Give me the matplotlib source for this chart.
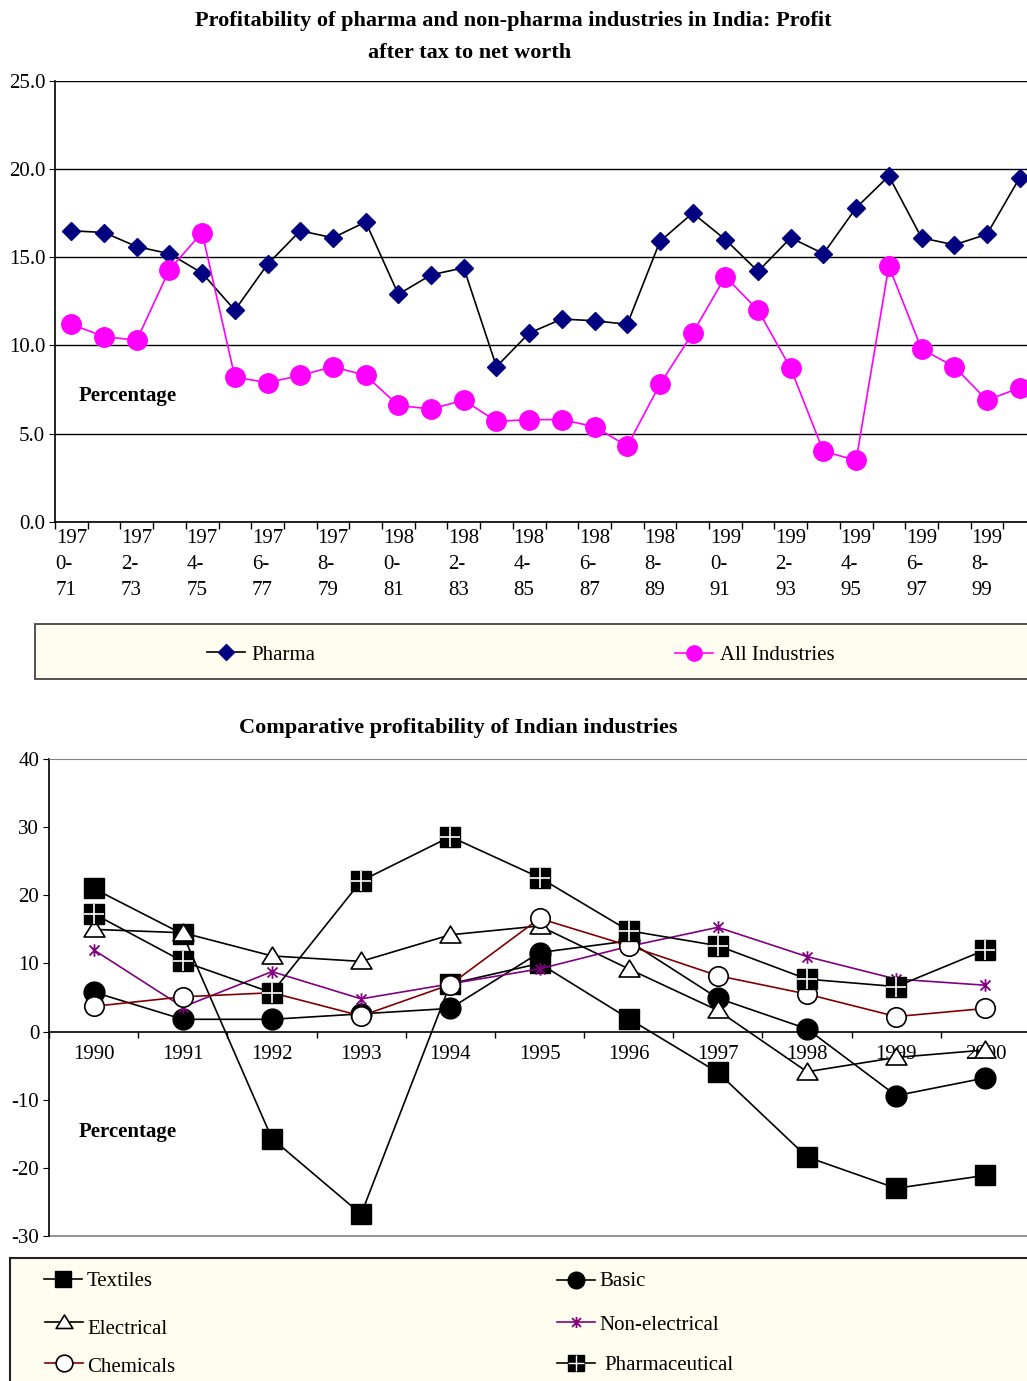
import matplotlib
matplotlib.use("Agg")
import matplotlib.pyplot as plt
from matplotlib.lines import Line2D
from matplotlib.patches import Rectangle
from matplotlib.path import Path

plt.rcParams['font.family'] = ['Liberation Serif', 'DejaVu Serif']
plt.rcParams['axes.unicode_minus'] = False

# profit after tax to net worth, 1970-71 .. 1999-00
periods = ['1970-71', '1971-72', '1972-73', '1973-74', '1974-75', '1975-76',
           '1976-77', '1977-78', '1978-79', '1979-80', '1980-81', '1981-82',
           '1982-83', '1983-84', '1984-85', '1985-86', '1986-87', '1987-88',
           '1988-89', '1989-90', '1990-91', '1991-92', '1992-93', '1993-94',
           '1994-95', '1995-96', '1996-97', '1997-98', '1998-99', '1999-00']
pharma = [16.5, 16.4, 15.6, 15.2, 14.1, 12.0, 14.6, 16.5, 16.1, 17.0,
          12.9, 14.0, 14.4, 8.8, 10.7, 11.5, 11.4, 11.2, 15.9, 17.5,
          16.0, 14.2, 16.1, 15.2, 17.8, 19.6, 16.1, 15.7, 16.3, 19.5]
all_industries = [11.2, 10.5, 10.3, 14.3, 16.4, 8.2, 7.9, 8.3, 8.8, 8.3,
                  6.6, 6.4, 6.9, 5.7, 5.8, 5.8, 5.4, 4.3, 7.8, 10.7,
                  13.9, 12.0, 8.7, 4.0, 3.5, 14.5, 9.8, 8.8, 6.9, 7.6]

# comparative profitability by industry, 1990 .. 2000
years = ['1990', '1991', '1992', '1993', '1994', '1995', '1996', '1997',
         '1998', '1999', '2000']
textiles = [21.0, 14.3, -15.7, -26.8, 7.0, 10.0, 1.9, -6.0, -18.4, -23.0, -21.1]
basic = [5.8, 1.8, 1.8, 2.6, 3.4, 11.6, 13.3, 4.9, 0.4, -9.4, -6.8]
electrical = [15.0, 14.5, 11.1, 10.3, 14.2, 15.5, 9.2, 3.1, -5.9, -3.8, -2.7]
non_electrical = [12.0, 3.6, 8.8, 4.8, 7.0, 9.2, 12.5, 15.3, 11.0, 7.7, 6.8]
chemicals = [3.7, 5.1, 5.7, 2.3, 6.9, 16.6, 12.6, 8.2, 5.5, 2.2, 3.4]
pharmaceutical = [17.3, 10.3, 5.7, 22.1, 28.6, 22.6, 14.8, 12.6, 7.7, 6.6, 12.0]

W, H = 1027, 1381
fig = plt.figure(figsize=(W / 100, H / 100), dpi=100)


def fx(x):
    return x / W


def fy(y):
    return 1 - y / H


FS = 15
TFS = 16
navy = '#000080'
magenta = '#FF00FF'
purple = '#800080'
darkred = '#800000'
cream = '#FFFDF0'

# asterisk marker (x plus vertical bar)
star = Path([(-0.8, -0.8), (0.8, 0.8), (-0.8, 0.8), (0.8, -0.8), (0, -1), (0, 1)],
            [Path.MOVETO, Path.LINETO, Path.MOVETO, Path.LINETO, Path.MOVETO, Path.LINETO])
# Excel style triangle
tri = Path([(-1, -0.72), (1, -0.72), (0, 0.9), (-1, -0.72)],
           [Path.MOVETO, Path.LINETO, Path.LINETO, Path.CLOSEPOLY])

# ---------------- top chart ----------------
ax1 = fig.add_axes([fx(55), fy(522), 981 / W, 441.3 / H])
x1 = list(range(len(periods)))
ax1.plot(x1, pharma, color='black', lw=1.2, marker='D', ms=9,
         mfc=navy, mec=navy, zorder=3)
ax1.plot(x1, all_industries, color=magenta, lw=1.2, marker='o', ms=14,
         mfc=magenta, mec=magenta, zorder=4)
ax1.set_xlim(-0.5, len(periods) - 0.5)
ax1.set_ylim(0, 25)
ax1.set_yticks([0, 5, 10, 15, 20, 25])
ax1.set_yticklabels(['%.1f' % v for v in [0, 5, 10, 15, 20, 25]])
ax1.yaxis.grid(True, color='black', lw=1)
ax1.set_axisbelow(True)
ax1.set_xticks(x1[::2])
ax1.set_xticklabels([p[:3] + '\n' + p[3:5] + '\n' + p[5:] for p in periods[::2]],
                    multialignment='left', linespacing=1.5)
ax1.set_xticks([i - 0.5 for i in range(len(periods) + 1)], minor=True)
ax1.tick_params(axis='x', which='major', length=0, pad=5, labelsize=FS)
ax1.tick_params(axis='x', which='minor', length=5, direction='out', width=1)
ax1.tick_params(axis='y', length=4, direction='out', pad=3, labelsize=FS)
for s in ['top', 'right']:
    ax1.spines[s].set_visible(False)
ax1.spines['left'].set_linewidth(1.2)
ax1.spines['bottom'].set_linewidth(1.2)

fig.text(0.5, fy(21), 'Profitability of pharma and non-pharma industries in India: Profit',
         ha='center', va='center', fontsize=TFS, fontweight='bold')
fig.text(fx(470), fy(53), 'after tax to net worth',
         ha='center', va='center', fontsize=TFS, fontweight='bold')
fig.text(fx(79), fy(396), 'Percentage', ha='left', va='center',
         fontsize=FS, fontweight='bold')

# legend box for the top chart
fig.add_artist(Rectangle((fx(35), fy(679)), fx(1100), 55 / H, transform=fig.transFigure,
                         facecolor=cream, edgecolor='#444444', lw=1.3))


def legend_entry(x, y, label, color, marker, ms, mfc, mec, mew=1.0, cross=False,
                 tx=24, ty=0):
    fig.add_artist(Line2D([fx(x - 19), fx(x + 19)], [fy(y), fy(y)],
                          transform=fig.transFigure, color=color, lw=1.2))
    fig.add_artist(Line2D([fx(x)], [fy(y)], transform=fig.transFigure,
                          marker=marker, ms=ms, mfc=mfc, mec=mec, mew=mew, ls='none'))
    if cross:
        fig.add_artist(Line2D([fx(x)], [fy(y)], transform=fig.transFigure,
                              marker='+', ms=ms, mec='white', mew=1.0, ls='none'))
    fig.text(fx(x + tx), fy(y + ty), label, ha='left', va='center', fontsize=FS)


legend_entry(226, 652, 'Pharma', 'black', 'D', 8, navy, navy, tx=25, ty=3)
legend_entry(694, 653, 'All Industries', magenta, 'o', 11, magenta, magenta, tx=26, ty=3)

# ---------------- bottom chart ----------------
ax2 = fig.add_axes([fx(49), fy(1236), 981 / W, 477 / H])
x2 = list(range(len(years)))
ax2.plot(x2, textiles, color='black', lw=1.2, marker='s', ms=14,
         mfc='black', mec='black', zorder=3)
ax2.plot(x2, basic, color='black', lw=1.2, marker='o', ms=15,
         mfc='black', mec='black', zorder=4)
ax2.plot(x2, electrical, color='black', lw=1.2, marker=tri, ms=15,
         mfc='white', mec='black', mew=1.2, zorder=5)
ax2.plot(x2, non_electrical, color=purple, lw=1.2, marker=star, ms=9,
         mfc='none', mec=purple, mew=1.3, zorder=6)
ax2.plot(x2, chemicals, color=darkred, lw=1.2, marker='o', ms=14,
         mfc='white', mec='black', mew=1.2, zorder=7)
ax2.plot(x2, pharmaceutical, color='black', lw=1.2, marker='s', ms=14,
         mfc='black', mec='black', zorder=8)
ax2.plot(x2, pharmaceutical, ls='none', marker='+', ms=14, mec='white', mew=1.2, zorder=9)

ax2.set_xlim(-0.5, len(years) - 0.5)
ax2.set_ylim(-30, 40)
ax2.set_yticks(range(-30, 41, 10))
ax2.set_xticks(x2)
ax2.set_xticklabels(years)
ax2.set_xticks([i - 0.5 for i in range(len(years) + 1)], minor=True)
ax2.tick_params(axis='x', which='major', length=0, pad=10, labelsize=FS)
ax2.tick_params(axis='x', which='minor', length=4, direction='out', width=1)
ax2.tick_params(axis='y', length=4, direction='out', pad=3, labelsize=FS)
ax2.spines['bottom'].set_position(('data', 0))
ax2.spines['bottom'].set_linewidth(1.2)
ax2.spines['left'].set_linewidth(1.2)
ax2.spines['right'].set_visible(False)
ax2.spines['top'].set_color('#808080')
ax2.axhline(-30, color='#808080', lw=1.2, clip_on=False)

fig.text(fx(458), fy(728), 'Comparative profitability of Indian industries',
         ha='center', va='center', fontsize=TFS, fontweight='bold')
fig.text(fx(79), fy(1132), 'Percentage', ha='left', va='center',
         fontsize=FS, fontweight='bold')

# legend box for the bottom chart
fig.add_artist(Rectangle((fx(10), fy(1500)), fx(1100), 242 / H, transform=fig.transFigure,
                         facecolor=cream, edgecolor='#222222', lw=1.5))
legend_entry(63, 1279, 'Textiles', 'black', 's', 11, 'black', 'black', ty=2)
legend_entry(576, 1280, 'Basic', 'black', 'o', 12, 'black', 'black', tx=23, ty=2)
legend_entry(64, 1322, 'Electrical', 'black', tri, 12, 'white', 'black', 1.2, tx=23, ty=7)
legend_entry(576, 1322, 'Non-electrical', purple, star, 8, 'none', purple, 1.3, tx=23, ty=3)
legend_entry(64, 1363, 'Chemicals', darkred, 'o', 12, 'white', 'black', 1.2, tx=23, ty=5)
legend_entry(576, 1363, 'Pharmaceutical', 'black', 's', 11, 'black', 'black',
             cross=True, tx=28, ty=3)

fig.savefig('out.png', dpi=100)
